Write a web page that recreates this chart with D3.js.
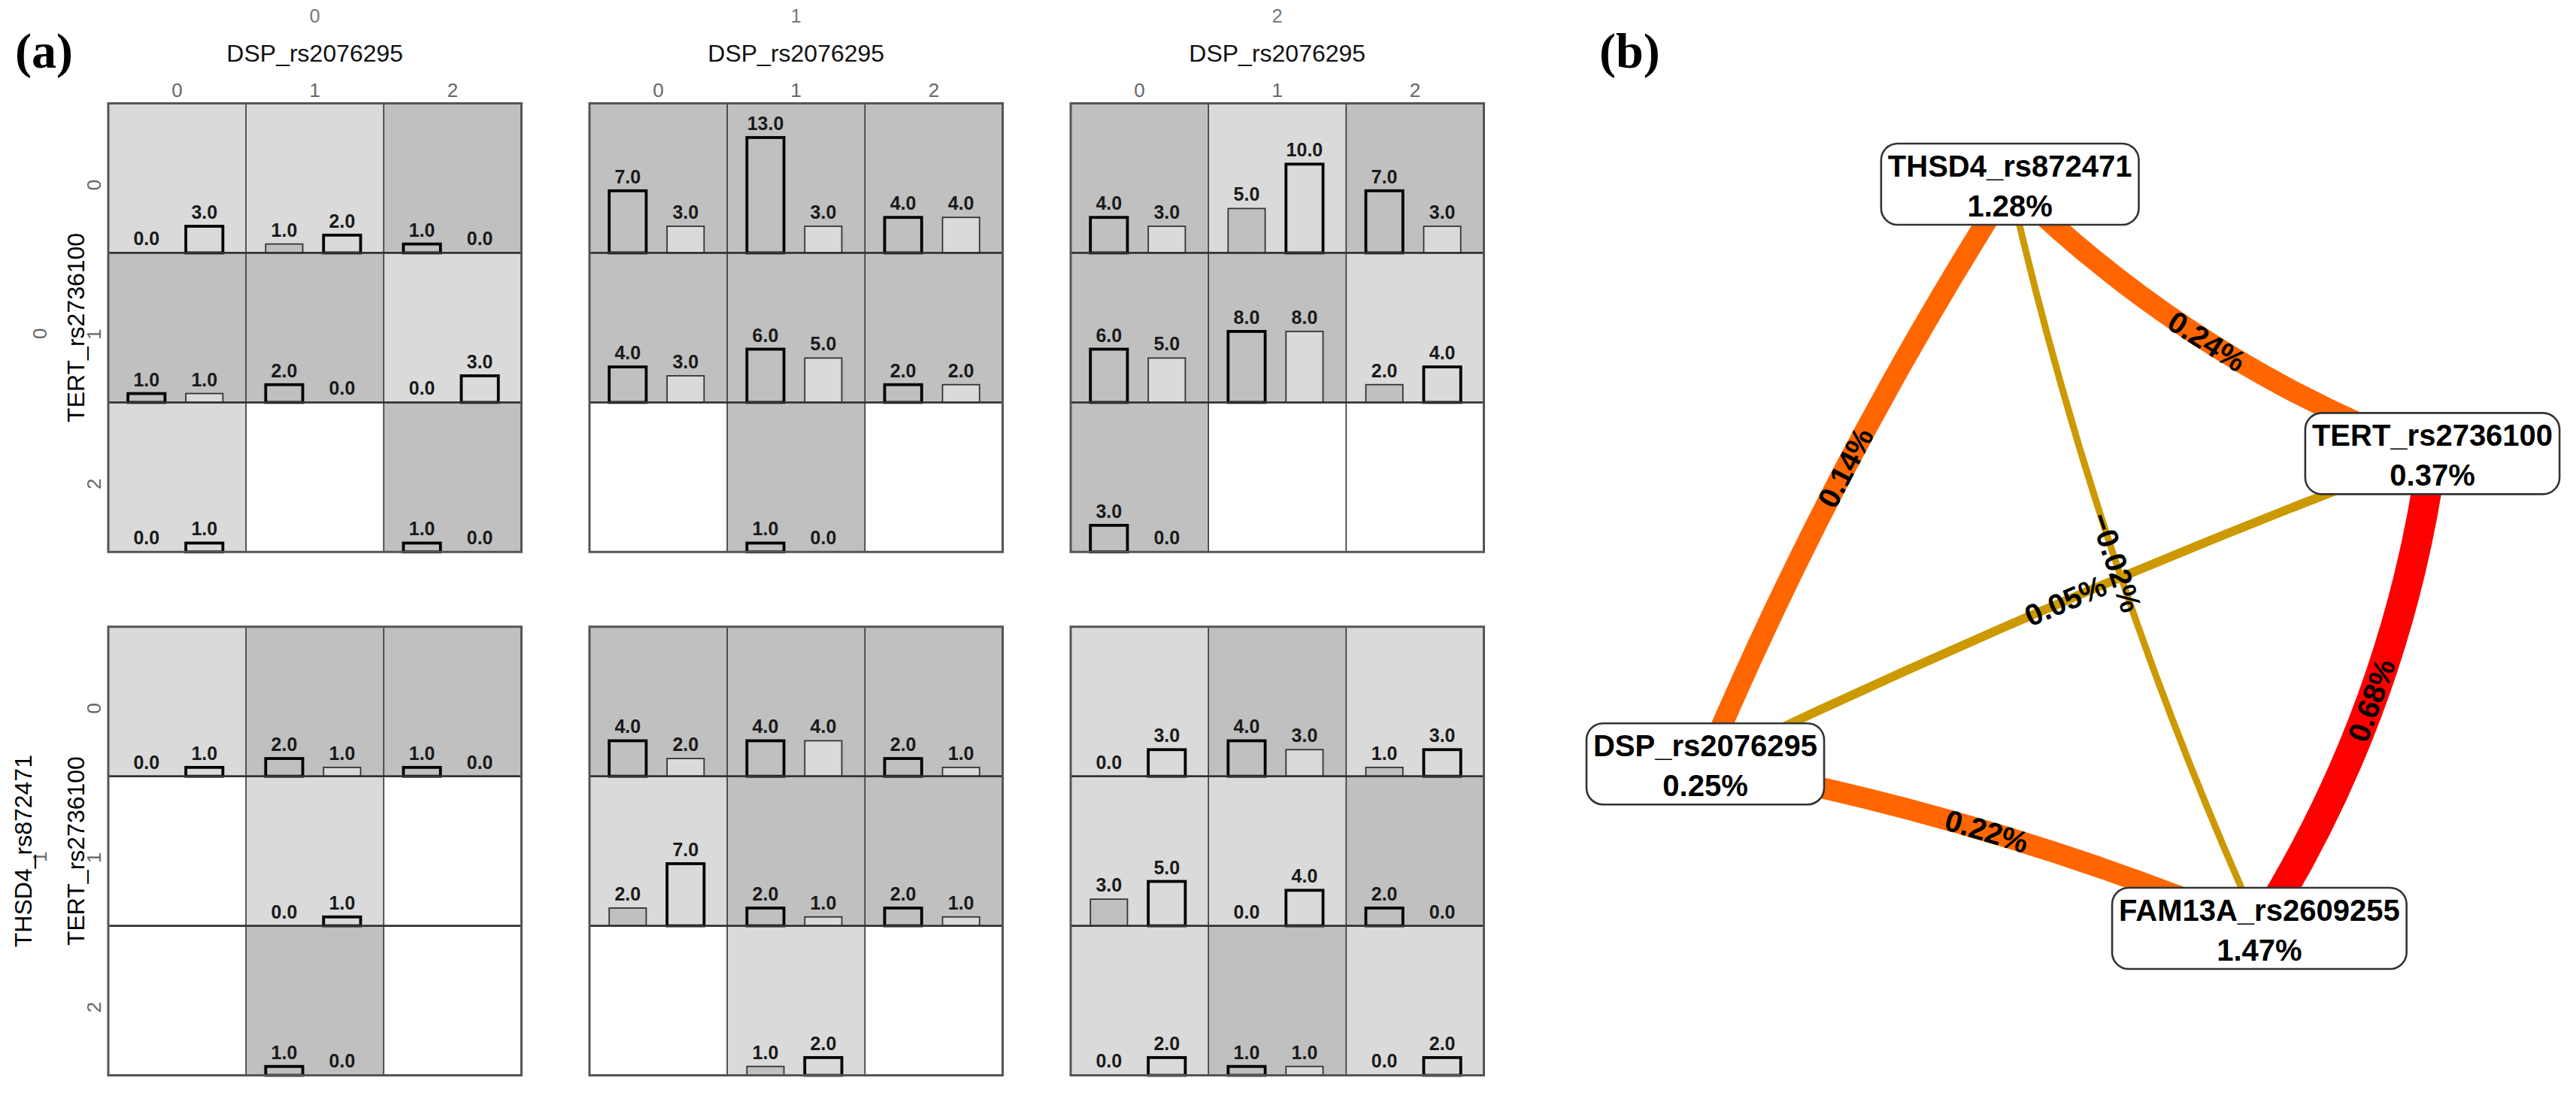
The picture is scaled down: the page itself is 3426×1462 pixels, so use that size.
<!DOCTYPE html>
<html><head><meta charset="utf-8">
<script src="https://cdn.jsdelivr.net/npm/d3@7"></script>
<style>html,body{margin:0;padding:0;background:#fff;} svg{display:block;}</style>
</head><body>
<svg id="chart" width="3426" height="1462"></svg>
<script>
// ================= DATA =================
// (a) MDR genotype-combination plots
const genotypeLevels = ["0", "1", "2"];          // tick labels inside each panel
const panelGroups = ["0", "1", "2"];             // header value above each panel column
const outerRowLevels = ["0", "1"];               // outer value for each panel row
const colVarName = "DSP_rs2076295";
const rowVarName = "TERT_rs2736100";
const outerRowVarName = "THSD4_rs872471";

// cases (left bar) and controls (right bar); rows = TERT 0..2, cols = DSP 0..2; null = empty cell
const casesA1    = [[0, 1, 1], [1, 2, 0], [0, null, 1]];
const controlsA1 = [[3, 2, 0], [1, 0, 3], [1, null, 0]];
const casesA2    = [[7, 13, 4], [4, 6, 2], [null, 1, null]];
const controlsA2 = [[3, 3, 4], [3, 5, 2], [null, 0, null]];
const casesA3    = [[4, 5, 7], [6, 8, 2], [3, null, null]];
const controlsA3 = [[3, 10, 3], [5, 8, 4], [0, null, null]];
const casesB1    = [[0, 2, 1], [null, 0, null], [null, 1, null]];
const controlsB1 = [[1, 1, 0], [null, 1, null], [null, 0, null]];
const casesB2    = [[4, 4, 2], [2, 2, 2], [null, 1, null]];
const controlsB2 = [[2, 4, 1], [7, 1, 1], [null, 2, null]];
const casesB3    = [[0, 4, 1], [3, 0, 2], [0, 1, 0]];
const controlsB3 = [[3, 3, 3], [5, 4, 0], [2, 1, 2]];

// (b) interaction network
const nodeNames = ["THSD4_rs872471", "TERT_rs2736100", "DSP_rs2076295", "FAM13A_rs2609255"];
const nodeGain  = [1.28, 0.37, 0.25, 1.47];
const edgeFrom  = [0, 0, 3, 3, 1, 0];
const edgeTo    = [2, 1, 1, 2, 2, 3];
const edgeGain  = [0.14, 0.24, 0.68, 0.22, 0.05, -0.02];

// ================= LAYOUT =================
const nodeLayoutX = [0.419, 1.0, 0.0, 0.762];
const nodeLayoutY = [0.0, 0.362, 0.779, 1.0];
const edgeBend = [0.021, 0.053, 0.054, 0.027, 0.011, 0.025];

const svg = d3.select("#chart");
const SANS = "'Liberation Sans', Arial, sans-serif";
const SERIF = "'Liberation Serif', 'Times New Roman', serif";
const DARK = "#c0c0c0", LIGHT = "#dadada";

// panel labels
svg.append("text").attr("x", 20).attr("y", 90).attr("font-family", SERIF)
  .attr("font-weight", "bold").attr("font-size", 66).text("(a)");
svg.append("text").attr("x", 2127).attr("y", 90).attr("font-family", SERIF)
  .attr("font-weight", "bold").attr("font-size", 66).text("(b)");

// ---------- (a) ----------
const panels = [
  {r: "0", c: "0", cases: casesA1, controls: controlsA1},
  {r: "0", c: "1", cases: casesA2, controls: controlsA2},
  {r: "0", c: "2", cases: casesA3, controls: controlsA3},
  {r: "1", c: "0", cases: casesB1, controls: controlsB1},
  {r: "1", c: "1", cases: casesB2, controls: controlsB2},
  {r: "1", c: "2", cases: casesB3, controls: controlsB3}
];

const panelX = d3.scaleBand().domain(panelGroups).range([144, 1973.5]).paddingInner(0.1414);
const panelY = d3.scaleBand().domain(outerRowLevels).range([137.5, 1430.5]).paddingInner(0.1429);
const cellX = d3.scaleBand().domain(genotypeLevels).range([0, panelX.bandwidth()]);
const cellY = d3.scaleBand().domain(genotypeLevels).range([0, panelY.bandwidth()]);
const barX = d3.scaleBand().domain(["case", "control"]).range([0, cellX.bandwidth()])
  .paddingInner(0.36).paddingOuter(0.37).align(0.46);
const barH = d3.scaleLinear().domain([0, 16.85]).range([0, cellY.bandwidth()]);
const fmt1 = d3.format(".1f");

panels.forEach(p => {
  const g = svg.append("g").attr("transform", `translate(${panelX(p.c)},${panelY(p.r)})`);
  const cells = [];
  genotypeLevels.forEach((rl, i) => genotypeLevels.forEach((cl, j) => {
    cells.push({rl, cl, ca: p.cases[i][j], co: p.controls[i][j]});
  }));
  g.selectAll("rect.cell").data(cells).join("rect").attr("class", "cell")
    .attr("x", d => cellX(d.cl)).attr("y", d => cellY(d.rl))
    .attr("width", cellX.bandwidth()).attr("height", cellY.bandwidth())
    .attr("fill", d => d.ca === null ? "#ffffff" : (d.ca >= d.co ? DARK : LIGHT));

  const bars = [];
  cells.filter(d => d.ca !== null).forEach(d => {
    const big = d.ca >= d.co ? "case" : "control";
    bars.push({cell: d, k: "case", v: d.ca, thick: big === "case"});
    bars.push({cell: d, k: "control", v: d.co, thick: big === "control"});
  });
  const base = d => cellY(d.cell.rl) + cellY.bandwidth();
  g.selectAll("rect.bar").data(bars.filter(b => b.v > 0)).join("rect").attr("class", "bar")
    .attr("x", d => cellX(d.cell.cl) + barX(d.k)).attr("width", barX.bandwidth())
    .attr("y", d => base(d) - barH(d.v)).attr("height", d => barH(d.v))
    .attr("fill", d => d.k === "case" ? DARK : LIGHT)
    .attr("stroke", d => d.thick ? "#000" : "#333")
    .attr("stroke-width", d => d.thick ? 3.8 : 1.8);
  g.selectAll("text.val").data(bars).join("text").attr("class", "val")
    .attr("x", d => cellX(d.cell.cl) + barX(d.k) + barX.bandwidth() / 2)
    .attr("y", d => base(d) - barH(d.v) - 10)
    .attr("text-anchor", "middle").attr("font-family", SANS).attr("font-weight", "bold")
    .attr("font-size", 25).attr("fill", "#1a1a1a").text(d => fmt1(d.v));

  // grid lines
  const pw = panelX.bandwidth(), ph = panelY.bandwidth();
  g.selectAll("line.v").data(genotypeLevels.slice(1)).join("line").attr("class", "v")
    .attr("x1", d => cellX(d)).attr("x2", d => cellX(d)).attr("y1", 0).attr("y2", ph)
    .attr("stroke", "#333").attr("stroke-width", 1.6);
  g.selectAll("line.h").data(genotypeLevels.slice(1)).join("line").attr("class", "h")
    .attr("y1", d => cellY(d)).attr("y2", d => cellY(d)).attr("x1", 0).attr("x2", pw)
    .attr("stroke", "#333").attr("stroke-width", 2.6);
  g.append("rect").attr("width", pw).attr("height", ph).attr("fill", "none")
    .attr("stroke", "#555").attr("stroke-width", 3);

  // headers above top panels
  if (p.r === outerRowLevels[0]) {
    const cx = pw / 2;
    g.append("text").attr("x", cx).attr("y", 30 - panelY(p.r)).attr("text-anchor", "middle")
      .attr("font-family", SANS).attr("font-size", 25).attr("fill", "#777").text(p.c);
    g.append("text").attr("x", cx).attr("y", 82 - panelY(p.r)).attr("text-anchor", "middle")
      .attr("font-family", SANS).attr("font-size", 32).attr("fill", "#111").text(colVarName);
    g.selectAll("text.ct").data(genotypeLevels).join("text").attr("class", "ct")
      .attr("x", d => cellX(d) + cellX.bandwidth() / 2).attr("y", 129 - panelY(p.r))
      .attr("text-anchor", "middle").attr("font-family", SANS).attr("font-size", 26)
      .attr("fill", "#666").text(d => d);
  }
  // side labels for left panels
  if (p.c === panelGroups[0]) {
    const ox = -panelX(p.c);
    g.selectAll("text.rt").data(genotypeLevels).join("text").attr("class", "rt")
      .attr("transform", d => `translate(${ox + 134},${cellY(d) + cellY.bandwidth() / 2 + 9}) rotate(-90)`)
      .attr("text-anchor", "middle").attr("font-family", SANS).attr("font-size", 26)
      .attr("fill", "#666").text(d => d);
    g.append("text").attr("transform", `translate(${ox + 62},${ph / 2 + 8}) rotate(-90)`)
      .attr("text-anchor", "middle").attr("font-family", SANS).attr("font-size", 26)
      .attr("fill", "#666").text(p.r);
    g.append("text").attr("transform", `translate(${ox + 112},${ph / 2}) rotate(-90)`)
      .attr("text-anchor", "middle").attr("font-family", SANS).attr("font-size", 32)
      .attr("fill", "#000").text(rowVarName);
    if (p.r === outerRowLevels[1]) {
      g.append("text").attr("transform", `translate(${ox + 42},${ph / 2}) rotate(-90)`)
        .attr("text-anchor", "middle").attr("font-family", SANS).attr("font-size", 32)
        .attr("fill", "#000").text(outerRowVarName);
    }
  }
});

// ---------- (b) ----------
const netX = d3.scaleLinear().domain([0, 1]).range([2268, 3235]);
const netY = d3.scaleLinear().domain([0, 1]).range([245, 1235]);
const edgeColor = d3.scaleThreshold().domain([0.1, 0.5]).range(["#cc9900", "#ff6600", "#ff0000"]);
const edgeWidth = d3.scaleThreshold().domain([0.03, 0.1, 0.5]).range([9, 12, 28, 40]);
const pct = v => d3.format(".2f")(v) + "%";

const nodes = nodeNames.map((n, i) => ({name: n, gain: nodeGain[i], x: netX(nodeLayoutX[i]), y: netY(nodeLayoutY[i])}));
const edges = edgeGain.map((v, i) => {
  const a = nodes[edgeFrom[i]], b = nodes[edgeTo[i]];
  const dx = b.x - a.x, dy = b.y - a.y, L = Math.hypot(dx, dy);
  const nx = -dy / L, ny = dx / L, off = edgeBend[i] * L;
  const mx = (a.x + b.x) / 2, my = (a.y + b.y) / 2;
  let ang = Math.atan2(dy, dx) * 180 / Math.PI;
  if (ang > 90) ang -= 180;
  if (ang < -90) ang += 180;
  return {v, a, b, cx: mx + nx * 2 * off, cy: my + ny * 2 * off, lx: mx + nx * off, ly: my + ny * off, ang};
});

const ng = svg.append("g");
ng.selectAll("path.edge").data(edges).join("path").attr("class", "edge")
  .attr("d", d => `M${d.a.x},${d.a.y} Q${d.cx},${d.cy} ${d.b.x},${d.b.y}`)
  .attr("fill", "none").attr("stroke", d => edgeColor(Math.abs(d.v)))
  .attr("stroke-width", d => edgeWidth(Math.abs(d.v)));
ng.selectAll("text.el").data(edges).join("text").attr("class", "el")
  .attr("transform", d => `translate(${d.lx},${d.ly}) rotate(${d.ang})`)
  .attr("text-anchor", "middle").attr("dominant-baseline", "central")
  .attr("font-family", SANS).attr("font-weight", "bold").attr("font-size", 40)
  .attr("fill", "#000").text(d => pct(d.v));

const nodeG = ng.selectAll("g.node").data(nodes).join("g").attr("class", "node")
  .attr("transform", d => `translate(${d.x},${d.y})`);
const box = nodeG.append("rect");
const t1 = nodeG.append("text").attr("y", -10).attr("text-anchor", "middle")
  .attr("font-family", SANS).attr("font-weight", "bold").attr("font-size", 40).text(d => d.name);
nodeG.append("text").attr("y", 43).attr("text-anchor", "middle")
  .attr("font-family", SANS).attr("font-weight", "bold").attr("font-size", 40).text(d => pct(d.gain));
t1.each(function(d) { d.w = this.getComputedTextLength() + 18; });
box.attr("x", d => -d.w / 2).attr("y", -54).attr("width", d => d.w).attr("height", 108)
  .attr("rx", 22).attr("ry", 22).attr("fill", "#fff").attr("stroke", "#333").attr("stroke-width", 2.6);
</script>
</body></html>
